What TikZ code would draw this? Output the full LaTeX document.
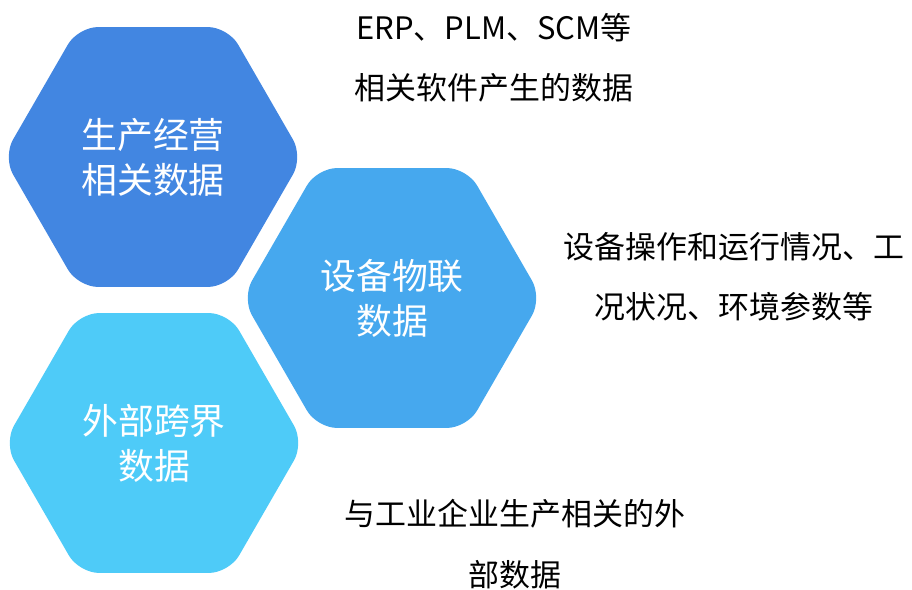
\documentclass[tikz,border=0pt]{standalone}
\usepackage{fontspec}
\setmainfont{Noto Sans CJK SC}
\usetikzlibrary{shapes.geometric}
\definecolor{hexa}{RGB}{66,134,225}
\definecolor{hexb}{RGB}{70,168,238}
\definecolor{hexc}{RGB}{78,203,248}
\tikzset{
  hexcell/.style={regular polygon, regular polygon sides=6, minimum size=7.5cm,
    inner sep=0pt, fill=#1, rounded corners=0.5cm, text=white, align=center,
    font=\fontsize{25.5}{32}\selectfont},
  note/.style={align=center, font=\fontsize{22}{43}\selectfont}
}
\begin{document}
\begin{tikzpicture}[x=0.025cm, y=-0.025cm]
\useasboundingbox (0,0) rectangle (912,590);
% hexagons
\node[hexcell=hexa] (prod) at (153,157) {生产经营\\相关数据};
\node[hexcell=hexb] (iot) at (392,298) {设备物联\\数据};
\node[hexcell=hexc] (ext) at (154,443) {外部跨界\\数据};
% notes
\node[note] (prodnote) at (494,58) {ERP、PLM、SCM等\\相关软件产生的数据};
\node[note] (iotnote) at (734,277) {设备操作和运行情况、工\\况状况、环境参数等};
\node[note] (extnote) at (515,544) {与工业企业生产相关的外\\部数据};
\end{tikzpicture}
\end{document}
